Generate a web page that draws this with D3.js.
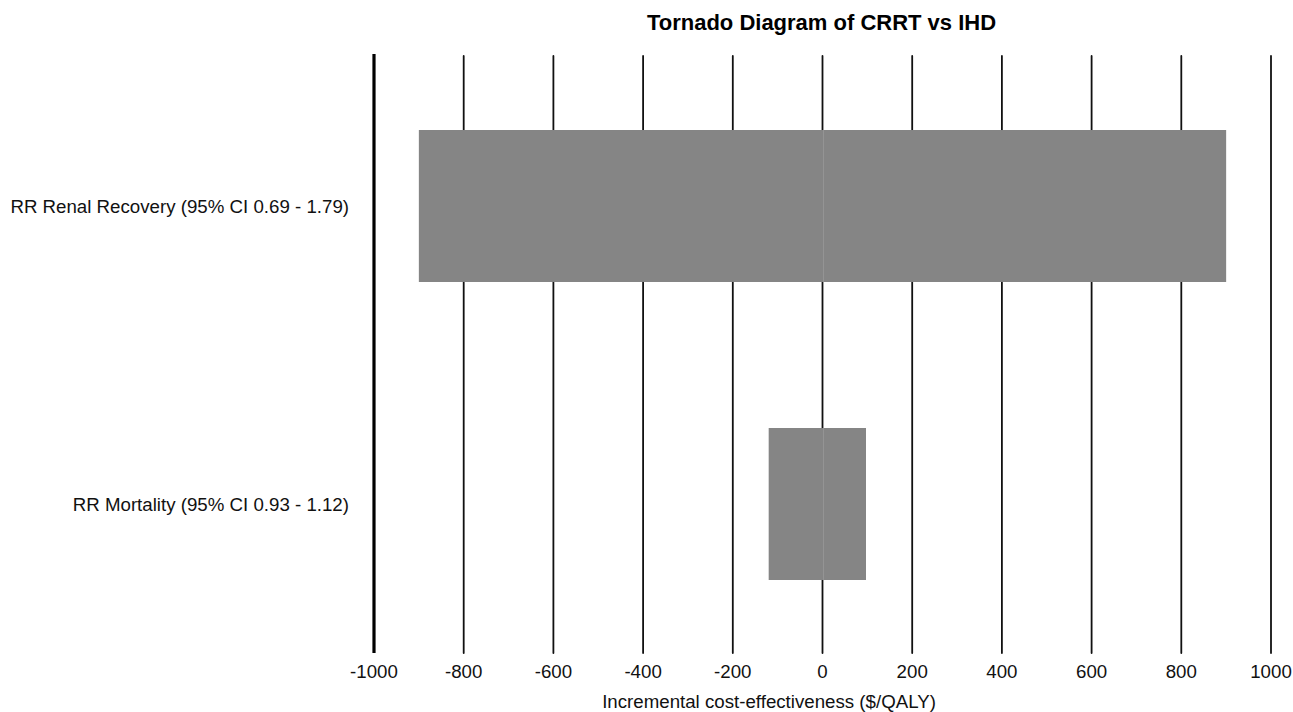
<!DOCTYPE html>
<html>
<head>
<meta charset="utf-8">
<script src="https://cdn.jsdelivr.net/npm/d3@7"></script>
<style>
  body { margin: 0; background: #fff; }
  text { font-family: "Liberation Sans", Arial, sans-serif; }
</style>
</head>
<body>
<div id="chart"></div>
<script>
const width = 1293;
const height = 712;

// data
const params = ["RR Renal Recovery (95% CI 0.69 - 1.79)", "RR Mortality (95% CI 0.93 - 1.12)"];
const lowValues = [-900, -120];
const highValues = [900, 97];
const tickValues = [-1000, -800, -600, -400, -200, 0, 200, 400, 600, 800, 1000];

const margin = { top: 57, right: 22, bottom: 62, left: 374 };

const svg = d3.select("#chart").append("svg")
    .attr("width", width)
    .attr("height", height);

const x = d3.scaleLinear()
    .domain([-1000, 1000])
    .range([margin.left, 1271]);

const y = d3.scaleBand()
    .domain(params)
    .range([margin.top, height - margin.bottom + 3])
    .paddingInner(0.49)
    .paddingOuter(0.245);

// grid lines
svg.append("g")
    .selectAll("line")
    .data(tickValues.slice(1))
    .enter().append("line")
    .attr("x1", d => x(d))
    .attr("x2", d => x(d))
    .attr("y1", 56)
    .attr("y2", 653)
    .style("stroke", "#111")
    .style("stroke-width", 1.8)
    .style("stroke-linecap", "round");

// left axis line
svg.append("line")
    .attr("x1", x(-1000))
    .attr("x2", x(-1000))
    .attr("y1", 54)
    .attr("y2", 653)
    .style("stroke", "#000")
    .style("stroke-width", 3.2);

const bars = params.map((p, i) => ({ name: p, low: lowValues[i], high: highValues[i] }));

// bars, left and right of zero
const barG = svg.append("g");
barG.selectAll("rect.low")
    .data(bars)
    .enter().append("rect")
    .attr("class", "low")
    .attr("x", d => x(d.low))
    .attr("y", d => y(d.name))
    .attr("width", d => x(0) - x(d.low))
    .attr("height", y.bandwidth())
    .style("fill", "#858585");

barG.selectAll("rect.high")
    .data(bars)
    .enter().append("rect")
    .attr("class", "high")
    .attr("x", d => x(0))
    .attr("y", d => y(d.name))
    .attr("width", d => x(d.high) - x(0))
    .attr("height", y.bandwidth())
    .style("fill", "#858585");

barG.selectAll("line.zero")
    .data(bars)
    .enter().append("line")
    .attr("class", "zero")
    .attr("x1", x(0) + 0.5)
    .attr("x2", x(0) + 0.5)
    .attr("y1", d => y(d.name))
    .attr("y2", d => y(d.name) + y.bandwidth())
    .style("stroke", "#a3a3a3")
    .style("stroke-width", 1);

// category labels
svg.append("g")
    .selectAll("text")
    .data(params)
    .enter().append("text")
    .attr("x", 349)
    .attr("y", d => y(d) + y.bandwidth() / 2)
    .attr("dy", "0.35em")
    .attr("text-anchor", "end")
    .style("font-size", "18.7px")
    .style("fill", "#111")
    .text(d => d);

// x tick labels
svg.append("g")
    .selectAll("text")
    .data(tickValues)
    .enter().append("text")
    .attr("x", d => x(d))
    .attr("y", 671.5)
    .attr("dy", "0.35em")
    .attr("text-anchor", "middle")
    .style("font-size", "18.7px")
    .style("fill", "#111")
    .text(d => d);

svg.append("text")
    .attr("x", 769)
    .attr("y", 701)
    .attr("dy", "0.35em")
    .attr("text-anchor", "middle")
    .style("font-size", "18.7px")
    .style("fill", "#111")
    .text("Incremental cost-effectiveness ($/QALY)");

svg.append("text")
    .attr("x", 821.5)
    .attr("y", 22.5)
    .attr("dy", "0.35em")
    .attr("text-anchor", "middle")
    .style("font-size", "22px")
    .style("font-weight", "bold")
    .style("fill", "#000")
    .text("Tornado Diagram of CRRT vs IHD");
</script>
</body>
</html>
